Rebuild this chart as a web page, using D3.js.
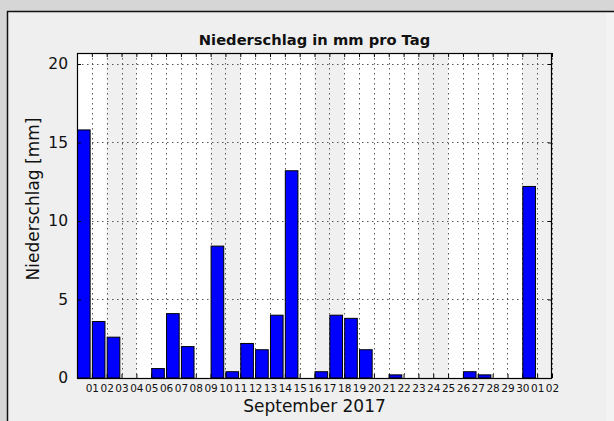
<!DOCTYPE html>
<html><head><meta charset="utf-8">
<script src="https://cdn.jsdelivr.net/npm/d3@7"></script>
<style>body{margin:0;background:#d6d6d6;} svg{display:block;font-family:"DejaVu Sans",sans-serif;}</style>
</head><body>
<svg id="c" width="614" height="421"></svg>
<script>
// Data
const dates = ["2017-08-31","2017-09-01","2017-09-02","2017-09-03","2017-09-04","2017-09-05","2017-09-06","2017-09-07","2017-09-08","2017-09-09","2017-09-10","2017-09-11","2017-09-12","2017-09-13","2017-09-14","2017-09-15","2017-09-16","2017-09-17","2017-09-18","2017-09-19","2017-09-20","2017-09-21","2017-09-22","2017-09-23","2017-09-24","2017-09-25","2017-09-26","2017-09-27","2017-09-28","2017-09-29","2017-09-30"];
const values = [15.8,3.6,2.6,0,0,0.6,4.1,2.0,0,8.4,0.4,2.2,1.8,4.0,13.2,0,0.4,4.0,3.8,1.8,0,0.2,0,0,0,0,0.4,0.2,0,0,12.2];
const weekendStarts = ["2017-09-02","2017-09-09","2017-09-16","2017-09-23","2017-09-30"];
const yTicks = [0,5,10,15,20];
const xDomain = ["2017-08-31","2017-10-02"];
const title = "Niederschlag in mm pro Tag";
const yTitle = "Niederschlag [mm]";
const xTitle = "September 2017";

const P = d => new Date(d + "T00:00:00Z");
const svg = d3.select("#c");
const L = 77, R = 552, T = 53, B = 378;

// panel
svg.append("rect").attr("x",7).attr("y",11).attr("width",600).attr("height",420).attr("fill","#efefef");
svg.append("rect").attr("x",606).attr("y",11).attr("width",8).attr("height",420).attr("fill","#f3f3f3");
svg.append("line").attr("x1",7.5).attr("x2",7.5).attr("y1",11).attr("y2",421).attr("stroke","#111").attr("stroke-width",1.5);
svg.append("line").attr("x1",7).attr("x2",614).attr("y1",11.5).attr("y2",11.5).attr("stroke","#111").attr("stroke-width",1.5);

const x = d3.scaleUtc().domain(xDomain.map(P)).range([L,R]);
const y = d3.scaleLinear().domain([0,20.7]).range([B,T]);

svg.append("rect").attr("x",L).attr("y",T).attr("width",R-L).attr("height",B-T).attr("fill","#fff");

// weekend shading
svg.append("g").selectAll("rect").data(weekendStarts).join("rect")
  .attr("x", d=>x(P(d))).attr("y",T)
  .attr("width", d=>x(d3.utcDay.offset(P(d),2))-x(P(d))).attr("height",B-T)
  .attr("fill","#f0f0f0");

const dayTicks = d3.utcDay.range(P("2017-09-01"), d3.utcDay.offset(P(xDomain[1]),1));

// grid
const g = svg.append("g");
g.selectAll(".vg").data(dayTicks).join("line")
  .attr("x1",d=>Math.round(x(d))+0.5).attr("x2",d=>Math.round(x(d))+0.5).attr("y1",T).attr("y2",B)
  .attr("stroke","#444").attr("stroke-width",0.9).attr("stroke-dasharray","1.5,3.5");
g.selectAll(".hg").data(yTicks.filter(v=>v>0)).join("line")
  .attr("y1",d=>Math.round(y(d))+0.5).attr("y2",d=>Math.round(y(d))+0.5).attr("x1",L).attr("x2",R)
  .attr("stroke","#444").attr("stroke-width",0.9).attr("stroke-dasharray","1.5,3.5");

// bars
const bw = 0.85;
svg.append("g").selectAll("rect").data(values.map((v,i)=>({d:P(dates[i]),v}))).join("rect")
  .attr("x", d=>x(d.d)+0.5)
  .attr("width", d=>x(new Date(+d.d + bw*864e5)) - x(d.d))
  .attr("y", d=>y(d.v)).attr("height", d=>B-y(d.v))
  .attr("fill","#0000ff").attr("stroke","#000").attr("stroke-width",1);

// axes
const xb = svg.append("g").attr("transform",`translate(0,${B})`)
  .call(d3.axisBottom(x).tickValues(dayTicks).tickFormat(d3.utcFormat("%d")).tickSizeInner(-4).tickSizeOuter(0).tickPadding(7));
const xt = svg.append("g").attr("transform",`translate(0,${T})`)
  .call(d3.axisTop(x).tickValues(dayTicks).tickFormat("").tickSizeInner(-4).tickSizeOuter(0));
const yl = svg.append("g").attr("transform",`translate(${L},0)`)
  .call(d3.axisLeft(y).tickValues(yTicks).tickFormat(d3.format("d")).tickSizeInner(-4).tickSizeOuter(0).tickPadding(9));
const yr = svg.append("g").attr("transform",`translate(${R},0)`)
  .call(d3.axisRight(y).tickValues(yTicks).tickFormat("").tickSizeInner(-4).tickSizeOuter(0));
[xb,xt,yl,yr].forEach(a=>{a.select(".domain").remove(); a.selectAll("line").attr("stroke","#000");});
xb.selectAll("text").attr("font-size","10.5px").attr("fill","#111").attr("font-family","DejaVu Sans");
yl.selectAll("text").attr("font-size","15.5px").attr("fill","#111").attr("font-family","DejaVu Sans");

svg.append("rect").attr("x",L+0.5).attr("y",T+0.5).attr("width",R-L-1).attr("height",B-T).attr("fill","none").attr("stroke","#000").attr("stroke-width",1.2);

svg.append("text").attr("x",(L+R)/2).attr("y",45).attr("text-anchor","middle").attr("font-weight","bold").attr("font-size","14.7px").attr("fill","#111").text(title);
svg.append("text").attr("transform",`translate(39,199) rotate(-90)`).attr("text-anchor","middle").attr("font-size","17px").attr("fill","#111").text(yTitle);
svg.append("text").attr("x",(L+R)/2).attr("y",412).attr("text-anchor","middle").attr("font-size","17px").attr("fill","#111").text(xTitle);
</script>
</body></html>
